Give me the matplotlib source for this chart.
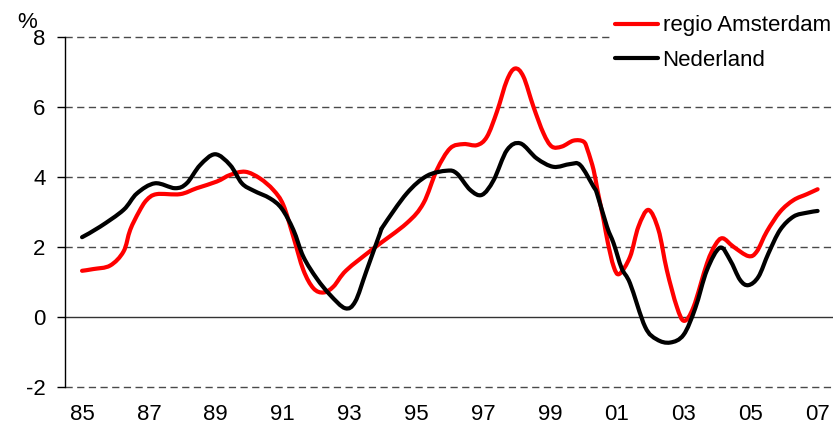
import matplotlib
matplotlib.use("Agg")
import matplotlib.pyplot as plt
from matplotlib.path import Path
from matplotlib.patches import PathPatch
from matplotlib.lines import Line2D

plt.rcParams['font.family'] = ['Liberation Sans', 'DejaVu Sans']
plt.rcParams['lines.scale_dashes'] = False

# ---- data ----
ams_x = [1985.0, 1985.34, 1985.84, 1986.24, 1986.44, 1986.7, 1986.93, 1987.23, 1987.93,
         1988.43, 1989.03, 1989.43, 1989.88, 1990.32, 1990.72, 1991.02, 1991.32, 1991.62,
         1991.92, 1992.22, 1992.52, 1992.9, 1993.72, 1994.71, 1995.21, 1995.61, 1996.01,
         1996.41, 1996.81, 1997.11, 1997.41, 1997.71, 1997.95, 1998.20, 1998.50, 1998.80,
         1999.05, 1999.35, 1999.70, 2000.0, 2000.12, 2000.30, 2000.42, 2000.6, 2000.72,
         2000.9, 2001.07, 2001.39, 2001.64, 2001.94, 2002.24, 2002.49, 2002.79, 2003.01,
         2003.29, 2003.69, 2003.94, 2004.16, 2004.48, 2004.93, 2005.18, 2005.48, 2005.88,
         2006.28, 2006.68, 2007.0]
ams_y = [1.32, 1.37, 1.47, 1.87, 2.49, 3.0, 3.34, 3.51, 3.51,
         3.68, 3.87, 4.06, 4.15, 3.96, 3.63, 3.2, 2.29, 1.34,
         0.82, 0.70, 0.87, 1.33, 1.96, 2.68, 3.25, 4.2, 4.82,
         4.94, 4.91, 5.15, 5.87, 6.77, 7.1, 6.87, 6.01, 5.25,
         4.87, 4.87, 5.04, 5.01, 4.77, 4.2, 3.6, 2.77, 2.15,
         1.44, 1.23, 1.72, 2.58, 3.06, 2.49, 1.34, 0.29, -0.11,
         0.29, 1.53, 2.06, 2.25, 2.01, 1.74, 1.87, 2.44, 3.01,
         3.34, 3.51, 3.65]

nl_x = [1985.0, 1985.54, 1986.24, 1986.64, 1987.18, 1987.78, 1988.13, 1988.53, 1988.98,
        1989.43, 1989.78, 1990.13, 1990.62, 1990.97, 1991.32, 1991.62, 1992.02, 1992.42,
        1992.87, 1993.17, 1993.5, 1993.91, 1994.01, 1994.71, 1995.31, 1995.91, 1996.21,
        1996.61, 1996.96, 1997.31, 1997.71, 1998.11, 1998.60, 1999.10, 1999.60, 1999.90,
        2000.30, 2000.4, 2000.70, 2000.9, 2001.14, 2001.39, 2001.84, 2002.19, 2002.59,
        2002.99, 2003.34, 2003.69, 2004.08, 2004.38, 2004.68, 2004.93, 2005.23, 2005.53,
        2005.88, 2006.28, 2006.68, 2007.0]
nl_y = [2.28, 2.58, 3.06, 3.53, 3.82, 3.68, 3.82, 4.34, 4.65,
        4.34, 3.82, 3.61, 3.39, 3.1, 2.49, 1.72, 1.1, 0.63,
        0.25, 0.44, 1.3, 2.39, 2.6, 3.53, 4.03, 4.18, 4.1,
        3.63, 3.49, 3.91, 4.77, 4.96, 4.53, 4.29, 4.37, 4.34,
        3.72, 3.53, 2.58, 2.1, 1.39, 0.96, -0.28, -0.64, -0.73,
        -0.51, 0.25, 1.34, 1.98, 1.63, 1.06, 0.91, 1.15, 1.82,
        2.49, 2.87, 2.98, 3.03]

series_names = ['regio Amsterdam', 'Nederland']
series_colors = ['#ff0000', '#000000']

xtick_years = [1985, 1987, 1989, 1991, 1993, 1995, 1997, 1999, 2001, 2003, 2005, 2007]
xtick_labels = ['85', '87', '89', '91', '93', '95', '97', '99', '01', '03', '05', '07']
ytick_vals = [-2, 0, 2, 4, 6, 8]
ytick_labels = ['-2', '0', '2', '4', '6', '8']

FS = 16
LW = 3.0


def smooth_path(xs, ys):
    """Excel-style smoothed line: cubic Bezier through the points (Catmull-Rom)."""
    n = len(xs)
    verts = [(xs[0], ys[0])]
    codes = [Path.MOVETO]
    for i in range(n - 1):
        x0, y0 = (xs[i - 1], ys[i - 1]) if i > 0 else (xs[i], ys[i])
        x1, y1 = xs[i], ys[i]
        x2, y2 = xs[i + 1], ys[i + 1]
        x3, y3 = (xs[i + 2], ys[i + 2]) if i + 2 < n else (x2, y2)
        c1 = (x1 + (x2 - x0) / 6.0, y1 + (y2 - y0) / 6.0)
        c2 = (x2 - (x3 - x1) / 6.0, y2 - (y3 - y1) / 6.0)
        verts += [c1, c2, (x2, y2)]
        codes += [Path.CURVE4, Path.CURVE4, Path.CURVE4]
    return Path(verts, codes)


fig = plt.figure(figsize=(8.38, 4.28), dpi=100)
ax = fig.add_axes([65/838, 1-387/428, (833-65)/838, (387-37)/428])

ax.set_xlim(1984.49, 2007.46)
ax.set_ylim(-2, 8)

# gridlines
for v in [-2, 2, 4, 6, 8]:
    ax.axhline(v, color='#4a4a4a', lw=1.0, linestyle=(0, (5.2, 3.2)), zorder=1, clip_on=False)
ax.axhline(0, color='#333333', lw=1.0, zorder=1)

for (xs, ys), col, z in zip([(ams_x, ams_y), (nl_x, nl_y)], series_colors, [3, 4]):
    patch = PathPatch(smooth_path(xs, ys), facecolor='none', edgecolor=col, lw=LW,
                      joinstyle='round', capstyle='round', zorder=z)
    ax.add_patch(patch)

for s in ['top', 'right', 'bottom']:
    ax.spines[s].set_visible(False)
ax.spines['left'].set_color('black')
ax.spines['left'].set_linewidth(1.0)

ax.set_yticks(ytick_vals)
ax.set_yticklabels(ytick_labels, fontsize=FS)
ax.tick_params(axis='y', direction='out', length=6, width=1.0, pad=8)
ax.set_xticks(xtick_years)
ax.set_xticklabels(xtick_labels, fontsize=FS)
ax.tick_params(axis='x', length=0, pad=12)

fig.text(17/838, 1-23/428, '%', fontsize=FS, ha='left', va='center')

handles = [Line2D([], [], color=c, lw=LW, solid_capstyle='round') for c in series_colors]
leg = fig.legend(handles, series_names, loc='upper left', bbox_to_anchor=(611/838, 1-11/428),
                 fontsize=FS, frameon=True, facecolor='white', edgecolor='none',
                 framealpha=1, handlelength=1.9, handletextpad=0.22,
                 labelspacing=0.62, borderpad=0.2, borderaxespad=0)

fig.savefig('out.png', dpi=100)
